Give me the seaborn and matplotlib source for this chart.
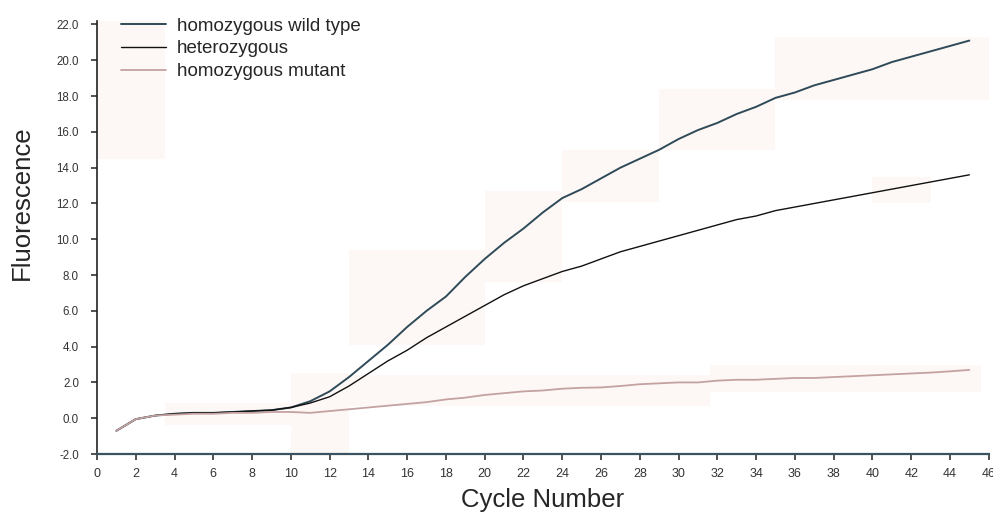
import numpy as np
import pandas as pd
import matplotlib
matplotlib.use("Agg")
import matplotlib.pyplot as plt
import seaborn as sns
from matplotlib.patches import Rectangle

cycles = list(range(1, 46))
wild_type = [-0.7, -0.05, 0.15, 0.25, 0.3, 0.3, 0.35, 0.4, 0.45, 0.6,
             0.95, 1.5, 2.3, 3.2, 4.1, 5.1, 6.0, 6.8, 7.9, 8.9,
             9.8, 10.6, 11.5, 12.3, 12.8, 13.4, 14.0, 14.5, 15.0, 15.6,
             16.1, 16.5, 17.0, 17.4, 17.9, 18.2, 18.6, 18.9, 19.2, 19.5,
             19.9, 20.2, 20.5, 20.8, 21.1]
heterozygous = [-0.7, -0.05, 0.15, 0.25, 0.3, 0.3, 0.35, 0.4, 0.45, 0.6,
                0.85, 1.2, 1.8, 2.5, 3.2, 3.8, 4.5, 5.1, 5.7, 6.3,
                6.9, 7.4, 7.8, 8.2, 8.5, 8.9, 9.3, 9.6, 9.9, 10.2,
                10.5, 10.8, 11.1, 11.3, 11.6, 11.8, 12.0, 12.2, 12.4, 12.6,
                12.8, 13.0, 13.2, 13.4, 13.6]
mutant = [-0.7, -0.05, 0.15, 0.2, 0.25, 0.25, 0.3, 0.3, 0.35, 0.35,
          0.3, 0.4, 0.5, 0.6, 0.7, 0.8, 0.9, 1.05, 1.15, 1.3,
          1.4, 1.5, 1.55, 1.65, 1.7, 1.72, 1.8, 1.9, 1.95, 2.0,
          2.0, 2.1, 2.15, 2.15, 2.2, 2.25, 2.25, 2.3, 2.35, 2.4,
          2.45, 2.5, 2.55, 2.62, 2.7]

series_names = ["homozygous wild type", "heterozygous", "homozygous mutant"]
series_colors = ["#2f4a58", "#111111", "#c4a2a2"]
series_widths = [1.4, 1.0, 1.3]

x_ticks = list(range(0, 47, 2))
y_ticks = list(range(-2, 23, 2))

# faint scan-tint background patches (x0, y0, x1, y1)
bg_patches = [(0, 14.5, 3.5, 22.2), (3.5, -0.4, 10, 0.85), (10, -2, 13, 2.5),
              (13, 4.1, 20, 9.4), (20, 7.6, 24, 12.7), (24, 12.1, 29, 15.0),
              (29, 15.0, 35, 18.4), (35, 17.8, 46, 21.3), (10, 0.7, 31.6, 2.4),
              (31.6, 1.45, 45.6, 3.0), (40, 12.0, 43, 13.5)]

df = pd.DataFrame({
    "Cycle": cycles * 3,
    "Fluorescence": wild_type + heterozygous + mutant,
    "Genotype": [series_names[0]] * len(cycles) + [series_names[1]] * len(cycles)
                + [series_names[2]] * len(cycles),
})

sns.set_style("white")
plt.rcParams["font.family"] = ["Liberation Sans", "DejaVu Sans"]

fig = plt.figure(figsize=(9.93, 5.15), dpi=100)
ax = fig.add_axes([0.0977, 0.1184, 0.898, 0.841])

for (x0, y0, x1, y1) in bg_patches:
    ax.add_patch(Rectangle((x0, y0), x1 - x0, y1 - y0, facecolor="#fdf8f5",
                           edgecolor="none", zorder=0))

for name, col, lw in zip(series_names, series_colors, series_widths):
    sns.lineplot(data=df[df["Genotype"] == name], x="Cycle", y="Fluorescence",
                 color=col, linewidth=lw, ax=ax, label=name, zorder=3)

ax.set_xlim(0, 46)
ax.set_ylim(-2, 22.2)
ax.set_xticks(x_ticks)
ax.set_xticklabels([str(t) for t in x_ticks], fontsize=9, color="#222222")
ax.set_yticks(y_ticks)
ax.set_yticklabels([f"{t:.1f}" for t in y_ticks], fontsize=8.3, color="#333333")
ax.tick_params(axis="x", bottom=True, direction="out", length=4, width=1.2,
               colors="#333333", pad=6)
ax.tick_params(axis="y", left=True, direction="out", length=4, width=1.2,
               colors="#333333", pad=9)

for s in ["top", "right"]:
    ax.spines[s].set_visible(False)
ax.spines["left"].set_color("#222222")
ax.spines["left"].set_linewidth(1.2)
ax.spines["bottom"].set_color("#3a5262")
ax.spines["bottom"].set_linewidth(1.6)

ax.set_xlabel("Cycle Number", fontsize=18.5)
ax.set_ylabel("Fluorescence", fontsize=18.5)
ax.xaxis.set_label_coords(0.5, -0.106)
ax.yaxis.set_label_coords(-0.084, 0.58)
ax.xaxis.label.set_verticalalignment("center")
ax.yaxis.label.set_verticalalignment("center")

leg = ax.legend(loc="upper left", bbox_to_anchor=(0.018, 1.025), frameon=False,
                fontsize=13.5, handlelength=2.4, handletextpad=0.6, labelspacing=0.3,
                borderaxespad=0)

fig.savefig("out.png", dpi=100)
